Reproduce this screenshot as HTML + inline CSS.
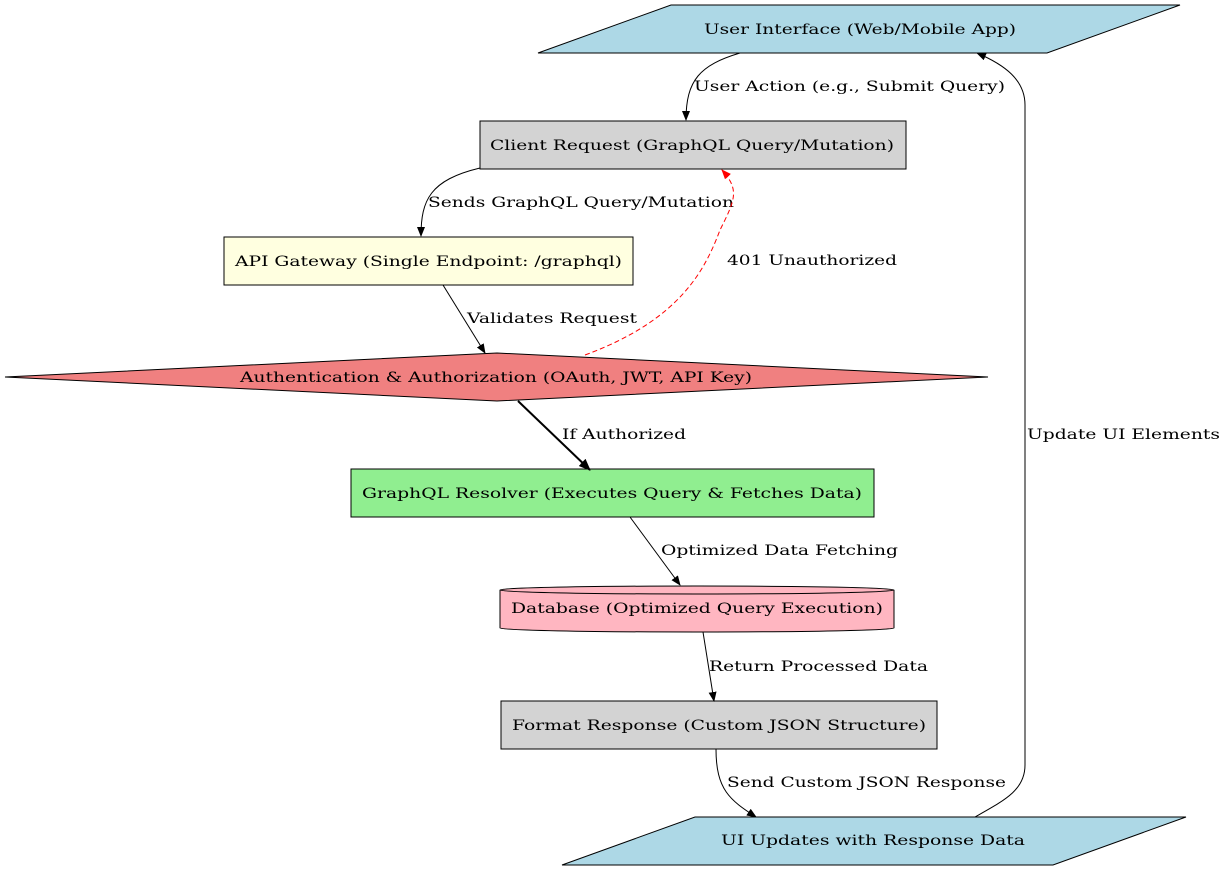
<!DOCTYPE html>
<html><head><meta charset="utf-8"><style>
html,body{margin:0;padding:0;background:#fff;}
svg text{font-family:"DejaVu Serif","Liberation Serif",serif;font-size:13.5px;fill:#000;}
</style></head><body>
<svg width="1227" height="871" viewBox="0 0 1227 871" xmlns="http://www.w3.org/2000/svg">
<defs>
<marker id="a" markerWidth="10" markerHeight="8" refX="9" refY="4" orient="auto" markerUnits="userSpaceOnUse"><path d="M0,0 L10,4 L0,8 z" fill="#000"/></marker>
<marker id="r" markerWidth="10" markerHeight="8" refX="9" refY="4" orient="auto" markerUnits="userSpaceOnUse"><path d="M0,0 L10,4 L0,8 z" fill="red"/></marker>
<marker id="b" markerWidth="12" markerHeight="10" refX="11" refY="5" orient="auto" markerUnits="userSpaceOnUse"><path d="M0,0 L12,5 L0,10 z" fill="#000"/></marker>
</defs>
<polygon points="538,53 671,5 1180,5 1047,53" fill="#add8e6" stroke="#000"/>
<text x="704" y="34" textLength="312" lengthAdjust="spacingAndGlyphs">User Interface (Web/Mobile App)</text>
<rect x="480" y="121" width="426" height="48" fill="#d3d3d3" stroke="#000"/>
<text x="490" y="150" textLength="404" lengthAdjust="spacingAndGlyphs">Client Request (GraphQL Query/Mutation)</text>
<rect x="224" y="237" width="409" height="48" fill="#ffffe0" stroke="#000"/>
<text x="235" y="266" textLength="387" lengthAdjust="spacingAndGlyphs">API Gateway (Single Endpoint: /graphql)</text>
<polygon points="5,377 497,353 988,377 497,401" fill="#f08080" stroke="#000"/>
<text x="240" y="382" textLength="512" lengthAdjust="spacingAndGlyphs">Authentication &amp; Authorization (OAuth, JWT, API Key)</text>
<rect x="351" y="469" width="523" height="48" fill="#90ee90" stroke="#000"/>
<text x="362" y="498" textLength="500" lengthAdjust="spacingAndGlyphs">GraphQL Resolver (Executes Query &amp; Fetches Data)</text>
<path d="M500,590 L500,628 A197,4 0 0 0 894,628 L894,590" fill="#ffb6c1" stroke="#000"/>
<ellipse cx="697" cy="590" rx="197" ry="4" fill="#ffb6c1" stroke="#000"/>
<text x="511" y="613" textLength="372" lengthAdjust="spacingAndGlyphs">Database (Optimized Query Execution)</text>
<rect x="501" y="701" width="436" height="48" fill="#d3d3d3" stroke="#000"/>
<text x="512" y="730" textLength="414" lengthAdjust="spacingAndGlyphs">Format Response (Custom JSON Structure)</text>
<polygon points="562,865 695,817 1186,817 1053,865" fill="#add8e6" stroke="#000"/>
<text x="721" y="845" textLength="304" lengthAdjust="spacingAndGlyphs">UI Updates with Response Data</text>
<path d="M740,53 C700,65 686,80 686,120" fill="none" stroke="#000" marker-end="url(#a)"/>
<text x="694" y="91" textLength="311" lengthAdjust="spacingAndGlyphs">User Action (e.g., Submit Query)</text>
<path d="M480,168 C430,180 421,200 421,236" fill="none" stroke="#000" marker-end="url(#a)"/>
<text x="428" y="207" textLength="306" lengthAdjust="spacingAndGlyphs">Sends GraphQL Query/Mutation</text>
<path d="M443,285 L485,353" fill="none" stroke="#000" marker-end="url(#a)"/>
<text x="467" y="323" textLength="170" lengthAdjust="spacingAndGlyphs">Validates Request</text>
<path d="M585,355 C680,320 705,270 720,230 C735,200 740,190 722,170" fill="none" stroke="red" stroke-dasharray="5,3" marker-end="url(#r)"/>
<text x="727" y="265" textLength="170" lengthAdjust="spacingAndGlyphs">401 Unauthorized</text>
<path d="M518,401 L590,470" fill="none" stroke="#000" stroke-width="2" marker-end="url(#b)"/>
<text x="562" y="439" textLength="124" lengthAdjust="spacingAndGlyphs">If Authorized</text>
<path d="M630,517 L680,585" fill="none" stroke="#000" marker-end="url(#a)"/>
<text x="661" y="555" textLength="237" lengthAdjust="spacingAndGlyphs">Optimized Data Fetching</text>
<path d="M703,632 L714,701" fill="none" stroke="#000" marker-end="url(#a)"/>
<text x="709" y="671" textLength="219" lengthAdjust="spacingAndGlyphs">Return Processed Data</text>
<path d="M716,749 C716,790 730,800 756,817" fill="none" stroke="#000" marker-end="url(#a)"/>
<text x="727" y="787" textLength="279" lengthAdjust="spacingAndGlyphs">Send Custom JSON Response</text>
<path d="M975,817 C1005,800 1025,790 1025,765 L1025,105 C1025,80 1005,65 977,53" fill="none" stroke="#000" marker-end="url(#a)"/>
<text x="1027" y="439" textLength="193" lengthAdjust="spacingAndGlyphs">Update UI Elements</text>
</svg>
</body></html>
